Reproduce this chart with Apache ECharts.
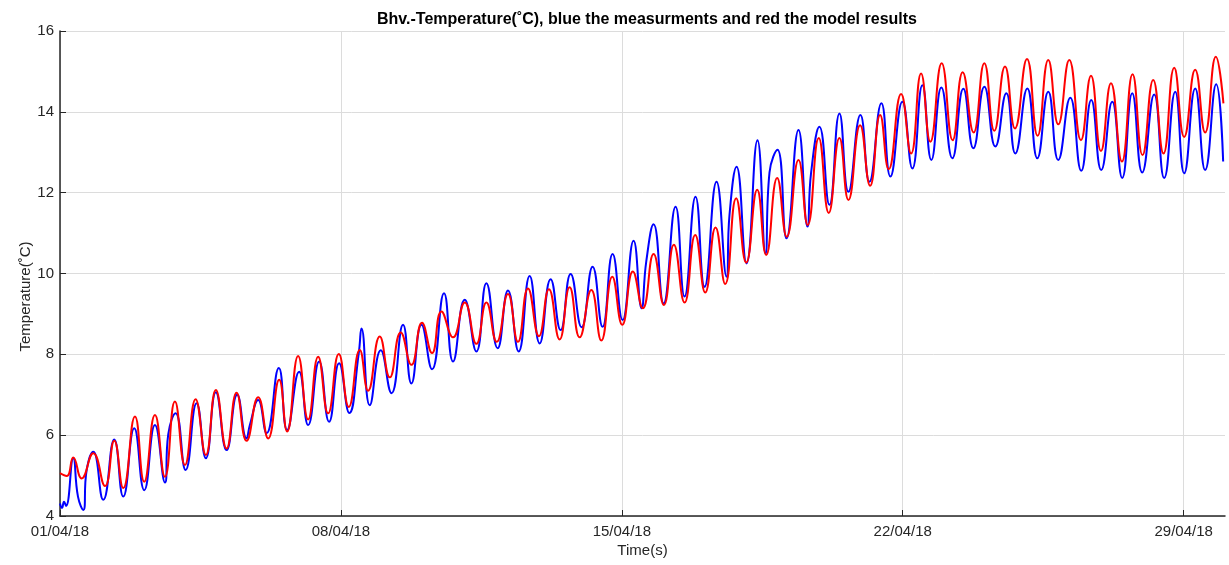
<!DOCTYPE html>
<html>
<head>
<meta charset="utf-8">
<script src="https://cdn.jsdelivr.net/npm/echarts@6/dist/echarts.min.js"></script>
<style>
html,body{margin:0;padding:0;background:#fff;}
#chart{width:1229px;height:565px;}
</style>
</head>
<body>
<div id="chart"></div>
<script>
// Time in days since 01/04/18 00:00
const tickDays = [0, 7, 14, 21, 28];
const tickLabels = ['01/04/18', '08/04/18', '15/04/18', '22/04/18', '29/04/18'];

// Measurements (blue)
const blueDays = [0.00,0.05,0.10,0.15,0.331,0.448,0.580,0.665,0.829,1.078,1.352,1.576,1.850,2.099,2.366,2.615,2.697,2.881,3.130,3.404,3.635,3.884,4.151,4.415,4.649,4.731,4.938,5.147,5.453,5.660,5.959,6.183,6.457,6.706,6.955,7.209,7.445,7.512,7.719,7.993,8.260,8.548,8.757,9.007,9.270,9.569,9.793,10.085,10.376,10.625,10.906,11.163,11.429,11.703,11.952,12.226,12.475,12.724,12.998,13.272,13.521,13.770,14.019,14.293,14.492,14.609,14.791,15.040,15.339,15.563,15.837,16.061,16.360,16.609,16.683,16.858,17.107,17.380,17.580,17.680,17.879,18.103,18.402,18.626,18.717,18.924,19.173,19.422,19.646,19.945,20.169,20.468,20.692,20.991,21.240,21.489,21.713,21.962,22.236,22.510,22.759,23.033,23.307,23.581,23.805,24.104,24.353,24.626,24.875,25.174,25.448,25.697,25.946,26.220,26.469,26.718,26.967,27.266,27.515,27.789,28.013,28.287,28.536,28.810,28.984];
const blueTemp = [4.31,4.20,4.35,4.25,5.43,4.48,4.15,5.14,5.59,4.40,5.89,4.48,6.17,4.64,6.25,4.83,6.02,6.54,5.14,6.79,5.43,7.06,5.63,7.00,5.92,6.25,6.87,6.05,7.66,6.13,7.57,6.25,7.82,6.33,7.78,6.55,8.03,8.64,6.74,8.10,7.04,8.73,7.28,8.73,7.63,9.51,7.82,9.35,8.07,9.76,8.15,9.58,8.07,9.94,8.27,9.86,8.60,9.99,8.67,10.17,8.68,10.48,8.85,10.81,9.14,10.30,11.22,9.26,11.65,9.43,11.90,9.67,12.27,9.92,11.45,12.64,10.25,13.30,10.50,12.50,13.06,10.87,13.55,11.16,12.50,13.63,11.70,13.96,12.02,13.92,12.27,14.21,12.40,14.25,12.60,14.66,12.81,14.60,12.85,14.57,13.10,14.62,13.14,14.46,12.97,14.58,12.85,14.50,12.81,14.35,12.54,14.29,12.56,14.25,12.36,14.46,12.50,14.43,12.36,14.50,12.48,14.58,12.56,14.68,12.77];

// Model results (red)
const redDays = [0.000,0.167,0.331,0.540,0.829,1.121,1.352,1.576,1.868,2.099,2.366,2.615,2.864,3.113,3.379,3.635,3.884,4.151,4.400,4.649,4.938,5.187,5.461,5.660,5.934,6.183,6.432,6.681,6.947,7.196,7.470,7.677,7.968,8.217,8.491,8.757,9.021,9.270,9.505,9.793,10.085,10.376,10.625,10.882,11.163,11.412,11.661,11.935,12.184,12.450,12.699,12.948,13.240,13.489,13.762,14.011,14.275,14.524,14.791,15.048,15.296,15.563,15.829,16.078,16.335,16.576,16.850,17.099,17.373,17.597,17.871,18.110,18.402,18.633,18.907,19.156,19.422,19.646,19.938,20.187,20.436,20.650,20.959,21.208,21.457,21.688,21.970,22.244,22.493,22.767,23.033,23.282,23.548,23.797,24.096,24.360,24.626,24.876,25.149,25.441,25.690,25.939,26.188,26.462,26.726,26.975,27.241,27.498,27.764,28.013,28.287,28.536,28.802,28.991];
const redTemp = [5.06,4.99,5.45,4.93,5.55,4.74,5.86,4.69,6.46,4.85,6.50,4.97,6.83,5.26,6.89,5.51,7.12,5.67,7.05,5.86,6.94,5.92,7.37,6.09,7.96,6.39,7.94,6.54,8.01,6.70,8.11,7.10,8.44,7.43,8.54,7.74,8.78,8.03,9.06,8.42,9.28,8.26,9.28,8.31,9.49,8.31,9.63,8.45,9.61,8.37,9.66,8.42,9.59,8.34,9.92,8.73,10.05,9.14,10.48,9.22,10.71,9.28,10.95,9.53,11.14,9.74,11.86,10.27,12.07,10.46,12.36,10.91,12.81,11.20,13.35,11.50,13.35,11.82,13.67,12.17,13.92,12.58,14.44,12.97,14.95,13.26,15.20,13.30,14.98,13.49,15.20,13.53,15.12,13.59,15.31,13.41,15.28,13.69,15.28,13.30,14.89,13.03,14.71,12.77,14.93,12.93,14.79,12.97,15.09,13.38,15.04,13.49,15.36,14.21];

const blueData = blueDays.map((d, i) => [d, blueTemp[i]]);
const redData = redDays.map((d, i) => [d, redTemp[i]]);

const axisColor = '#262626';
const gridColor = '#dcdcdc';
const fontFam = '"Liberation Sans", Arial, Helvetica, sans-serif';

const chart = echarts.init(document.getElementById('chart'), null, {renderer: 'canvas'});
chart.setOption({
  animation: false,
  backgroundColor: '#ffffff',
  title: {
    text: 'Bhv.-Temperature(\u02DAC), blue the measurments and red the model results',
    left: 642, top: 7, textAlign: 'center',
    textStyle: {fontFamily: fontFam, fontSize: 16, fontWeight: 'bold', color: '#000'}
  },
  grid: {left: 60, right: 4, top: 31, bottom: 49, containLabel: false},
  xAxis: {
    type: 'value', min: 0, max: 29.03,
    name: 'Time(s)', nameLocation: 'middle', nameGap: 27, nameMoveOverlap: false,
    nameTextStyle: {fontFamily: fontFam, fontSize: 15, color: axisColor},
    axisLine: {show: true, onZero: false, lineStyle: {color: axisColor, width: 1.5}},
    axisTick: {show: true, inside: true, length: 6, customValues: tickDays, lineStyle: {color: axisColor}},
    axisLabel: {
      customValues: tickDays, margin: 8,
      fontFamily: fontFam, fontSize: 15, color: axisColor,
      formatter: v => tickLabels[tickDays.indexOf(Math.round(v))] || ''
    },
    splitLine: {show: true, lineStyle: {color: gridColor, width: 1}}
  },
  yAxis: {
    type: 'value', min: 4, max: 16, interval: 2,
    name: 'Temperature(\u02DAC)', nameLocation: 'middle', nameGap: 27, nameMoveOverlap: false,
    nameTextStyle: {fontFamily: fontFam, fontSize: 15, color: axisColor, padding: [0, 46, 0, 0]},
    axisLine: {show: true, lineStyle: {color: axisColor, width: 1.5}},
    axisTick: {show: true, inside: true, length: 6, lineStyle: {color: axisColor}},
    axisLabel: {fontFamily: fontFam, fontSize: 15, color: axisColor, margin: 6},
    splitLine: {show: true, lineStyle: {color: gridColor, width: 1}}
  },
  series: [
    {
      name: 'measurements', type: 'line', data: blueData, showSymbol: false,
      smooth: 0.5, lineStyle: {color: '#0000ff', width: 2}, z: 2
    },
    {
      name: 'model', type: 'line', data: redData, showSymbol: false,
      smooth: 0.5, lineStyle: {color: '#ff0000', width: 2}, z: 3
    }
  ]
});
</script>
</body>
</html>
